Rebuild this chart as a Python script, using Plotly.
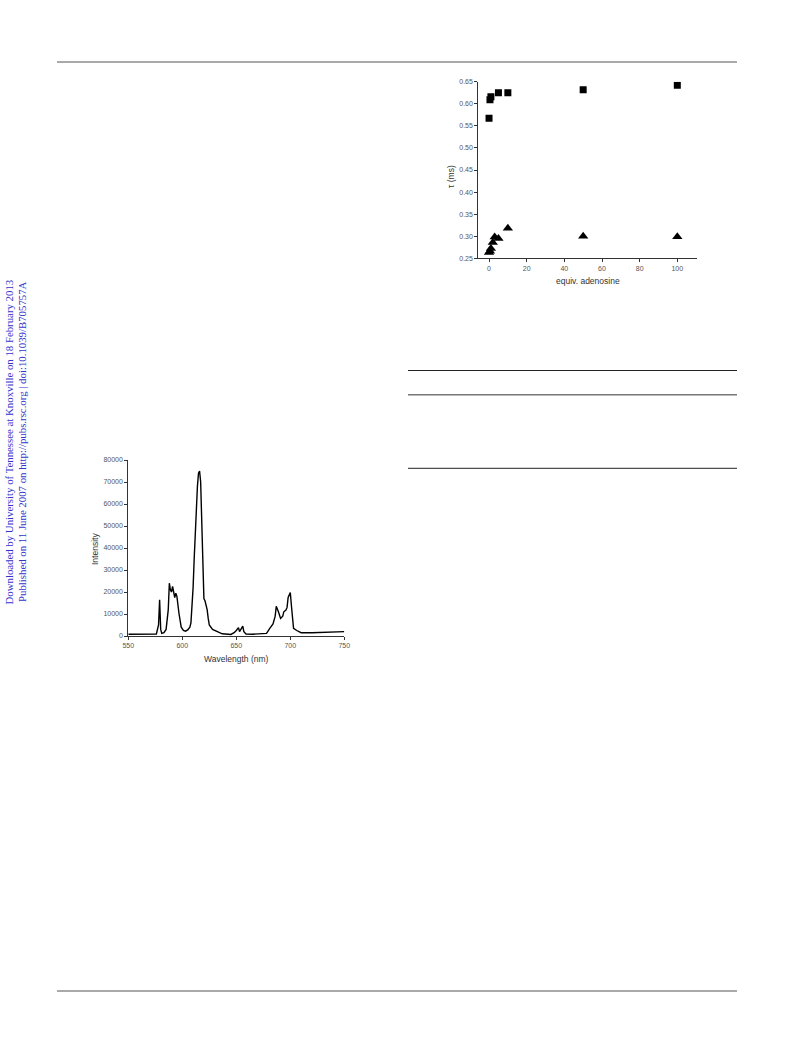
import plotly.graph_objects as go

W, H = 793, 1040

# ---- data: lifetime vs equiv. adenosine ----
equiv_sq = [0, 0.5, 1, 5, 10, 50, 100]
tau_sq = [0.567, 0.609, 0.616, 0.625, 0.625, 0.632, 0.642]
equiv_tri = [0, 0.5, 1, 2, 3, 5, 10, 50, 100]
tau_tri = [0.263, 0.266, 0.272, 0.286, 0.298, 0.295, 0.318, 0.300, 0.299]

# ---- data: emission spectrum ----
wavelength = [550, 560, 570, 576, 578, 579, 580, 581, 583, 585, 587, 588, 589, 590, 591,
              593, 594, 595, 597, 599, 601, 603, 605, 607, 608, 609, 610, 611, 612, 613,
              614, 615, 616, 617, 618, 619, 620, 621, 622, 623, 624, 625, 628, 632, 637,
              645, 648, 650, 652, 653, 655, 656, 657, 659, 665, 672, 678, 681, 684, 686,
              687, 689, 691, 693, 694, 696, 697, 698, 700, 701, 702, 703, 706, 710, 720,
              730, 740, 750]
intensity = [800, 800, 850, 900, 5000, 16500, 3000, 1200, 1500, 3000, 12000, 24000, 21000, 20000, 22500,
             17500, 19500, 18000, 10000, 4000, 2500, 2200, 2800, 4000, 6000, 12000, 22000, 35000, 48000, 58000,
             68000, 74000, 75000, 70000, 55000, 30000, 17000, 16000, 14500, 12000, 8000, 5000, 3000, 2000, 1000,
             700, 1500, 2500, 3800, 2000, 3500, 4500, 2000, 900, 800, 1000, 1200, 3500, 5500, 9000,
             13500, 11000, 8000, 9000, 11000, 11800, 13000, 17500, 19800, 14000, 8000, 3500, 2500, 1500, 1500,
             1600, 1900, 2000]


def px(x):
    return x / W


def py(y):
    return 1 - y / H


fig = go.Figure()

fig.add_trace(go.Scatter(x=equiv_sq, y=tau_sq, mode="markers", xaxis="x", yaxis="y",
                         marker=dict(symbol="square", size=7, color="black"), showlegend=False))
fig.add_trace(go.Scatter(x=equiv_tri, y=tau_tri, mode="markers", xaxis="x", yaxis="y",
                         marker=dict(symbol="triangle-up", size=9, color="black"), showlegend=False))
fig.add_trace(go.Scatter(x=wavelength, y=intensity, mode="lines", xaxis="x2", yaxis="y2",
                         line=dict(color="black", width=1.4), showlegend=False))

tickfont = dict(family="Liberation Sans, Arial, sans-serif", size=7, color="#555")
axcommon = dict(showgrid=False, zeroline=False, showline=True, linecolor="#333", linewidth=1,
                ticks="outside", ticklen=3, tickcolor="#333", tickfont=tickfont, automargin=False)

fig.update_layout(
    template="none",
    width=W, height=H,
    margin=dict(l=0, r=0, t=0, b=0, pad=0, autoexpand=False),
    paper_bgcolor="white", plot_bgcolor="white",
    xaxis=dict(domain=[px(478.3), px(696.7)], anchor="y", range=[-5.7, 110.3],
               tickvals=[0, 20, 40, 60, 80, 100], **axcommon),
    yaxis=dict(domain=[py(258.3), py(81.7)], anchor="x", range=[0.25, 0.65],
               tickvals=[0.25, 0.30, 0.35, 0.40, 0.45, 0.50, 0.55, 0.60, 0.65],
               tickformat=".2f", **axcommon),
    xaxis2=dict(domain=[px(128.3), px(344.3)], anchor="y2", range=[550, 750],
                tickvals=[550, 600, 650, 700, 750], **axcommon),
    yaxis2=dict(domain=[py(636), py(460)], anchor="x2", range=[0, 80000],
                tickvals=[0, 10000, 20000, 30000, 40000, 50000, 60000, 70000, 80000],
                tickformat="d", **axcommon),
)

titlefont = dict(family="Liberation Sans, Arial, sans-serif", size=8.5, color="#333")
annots = [
    dict(x=px(451.5), y=py(176.5), text="τ (ms)", textangle=-90),
    dict(x=px(588), y=py(280.5), text="equiv. adenosine"),
    dict(x=px(95), y=py(549), text="Intensity", textangle=-90),
    dict(x=px(236.5), y=py(659), text="Wavelength (nm)"),
]
for a in annots:
    fig.add_annotation(xref="paper", yref="paper", showarrow=False, font=titlefont,
                       xanchor="center", yanchor="middle", **a)

sidefont = dict(family="Liberation Serif, Times New Roman, serif", size=10.8, color="#3333cc")
fig.add_annotation(xref="paper", yref="paper", x=px(8.5), y=py(442), showarrow=False,
                   text="Downloaded by University of Tennessee at Knoxville on 18 February 2013",
                   textangle=-90, font=sidefont, xanchor="center", yanchor="middle")
fig.add_annotation(xref="paper", yref="paper", x=px(22), y=py(442), showarrow=False,
                   text="Published on 11 June 2007 on http://pubs.rsc.org | doi:10.1039/B705757A",
                   textangle=-90, font=sidefont, xanchor="center", yanchor="middle")

# page rules
rules = [
    (57, 737, 62, "#555", 1.2),
    (57, 737, 991, "#555", 1.2),
    (408, 737, 370.5, "#222", 1),
    (408, 737, 394.8, "#777", 1.5),
    (408, 737, 468.3, "#222", 1),
]
for x0, x1, y, c, w in rules:
    fig.add_shape(type="line", xref="paper", yref="paper", x0=px(x0), x1=px(x1), y0=py(y), y1=py(y),
                  line=dict(color=c, width=w))

fig.write_html("out.html", config={"displayModeBar": False},
               post_script="document.body.style.margin='0';document.body.style.overflow='hidden';")
